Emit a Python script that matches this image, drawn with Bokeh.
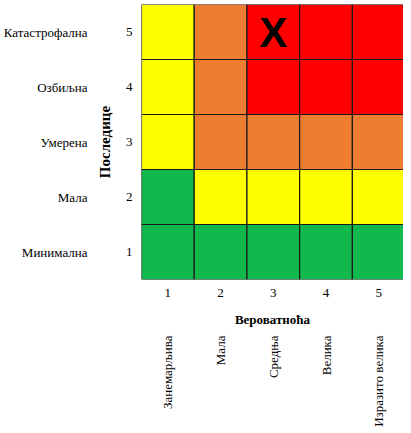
import math
from bokeh.plotting import figure
from bokeh.layouts import column
from bokeh.models import ColumnDataSource, LinearAxis, FixedTicker, Range1d
from bokeh.embed import file_html
from bokeh.resources import INLINE
from bokeh.core.properties import value

# ---- data ----
probability = [1, 2, 3, 4, 5]
consequence = [1, 2, 3, 4, 5]
probability_labels = ["Занемарљива", "Мала", "Средња", "Велика", "Изразито велика"]
consequence_labels = ["Минимална", "Мала", "Умерена", "Озбиљна", "Катастрофална"]
risk_row_1 = ["low", "low", "low", "low", "low"]
risk_row_2 = ["low", "medium", "medium", "medium", "medium"]
risk_row_3 = ["medium", "high", "high", "high", "high"]
risk_row_4 = ["medium", "high", "extreme", "extreme", "extreme"]
risk_row_5 = ["medium", "high", "extreme", "extreme", "extreme"]
level_colors = {"low": "#11B94C", "medium": "#FFFF00", "high": "#ED7D31", "extreme": "#FF0000"}
marker_probability = [3]
marker_consequence = [5]
marker_text = ["X"]

rows = [risk_row_1, risk_row_2, risk_row_3, risk_row_4, risk_row_5]
xs, ys, cs = [], [], []
for ci, row in zip(consequence, rows):
    for pi, lvl in zip(probability, row):
        xs.append(pi)
        ys.append(ci)
        cs.append(level_colors[lvl])
src = ColumnDataSource(dict(x=xs, y=ys, c=cs))

SERIF = "Liberation Serif"
W = 403
LEFT = 135
TOP = 4
FRAME_H = 277
BOTTOM = 48
H1 = TOP + FRAME_H + BOTTOM
H2 = 100

p = figure(width=W, height=H1, output_backend="svg", toolbar_location=None,
           x_range=Range1d(0.5, 5.47), y_range=Range1d(0.5, 5.5),
           x_axis_location=None, y_axis_location=None,
           min_border_left=LEFT, min_border_top=TOP, min_border_right=0,
           min_border_bottom=BOTTOM)
p.outline_line_color = None
p.grid.visible = False
p.background_fill_color = "white"
p.border_fill_color = "white"

p.rect(x="x", y="y", width=1, height=1, source=src, fill_color="c",
       line_color="#1a1a1a", line_width=1.2)

msrc = ColumnDataSource(dict(x=marker_probability, y=marker_consequence, t=marker_text))
p.text(x="x", y="y", text="t", source=msrc, text_font=value("Liberation Sans"),
       text_font_style="bold", text_font_size="42px", text_align="center",
       text_baseline="middle", text_color="black")


def style(ax):
    ax.axis_line_color = None
    ax.major_tick_line_color = None
    ax.minor_tick_line_color = None
    ax.major_label_text_font = SERIF
    ax.major_label_text_font_size = "13px"
    ax.major_label_text_color = "black"
    ax.axis_label_text_font = SERIF
    ax.axis_label_text_font_size = "13px"
    ax.axis_label_text_font_style = "bold"
    ax.axis_label_text_color = "black"


# left: numbers + title (inner), category names (outer)
yl1 = LinearAxis(ticker=FixedTicker(ticks=consequence), axis_label="Последице")
style(yl1)
yl1.major_label_standoff = 3
yl1.axis_label_standoff = 10
yl1.axis_label_text_font_size = "15px"
yl2 = LinearAxis(ticker=FixedTicker(ticks=consequence),
                 major_label_overrides={c: l for c, l in zip(consequence, consequence_labels)})
style(yl2)
yl2.major_label_standoff = 0
p.add_layout(yl1, "left")
p.add_layout(yl2, "left")

# bottom: numbers + title
xb1 = LinearAxis(ticker=FixedTicker(ticks=probability), axis_label="Вероватноћа")
style(xb1)
xb1.major_label_standoff = 3
xb1.axis_label_standoff = 12
p.add_layout(xb1, "below")

# second strip: rotated probability names, reading upward, top-aligned
p2 = figure(width=W, height=H2, output_backend="svg", toolbar_location=None,
            x_range=p.x_range, y_range=Range1d(0, H2),
            x_axis_location=None, y_axis_location=None,
            min_border_left=LEFT, min_border_top=0, min_border_right=0, min_border_bottom=0)
p2.outline_line_color = None
p2.grid.visible = False
p2.background_fill_color = "white"
p2.border_fill_color = "white"
lsrc = ColumnDataSource(dict(x=probability, y=[H2 - 6] * len(probability), t=probability_labels))
p2.text(x="x", y="y", text="t", source=lsrc, angle=math.pi / 2,
        text_align="right", text_baseline="middle",
        text_font=value(SERIF), text_font_size="13px", text_color="black")

layout = column(p, p2, spacing=0)
open("out.html", "w").write(file_html(layout, INLINE))
